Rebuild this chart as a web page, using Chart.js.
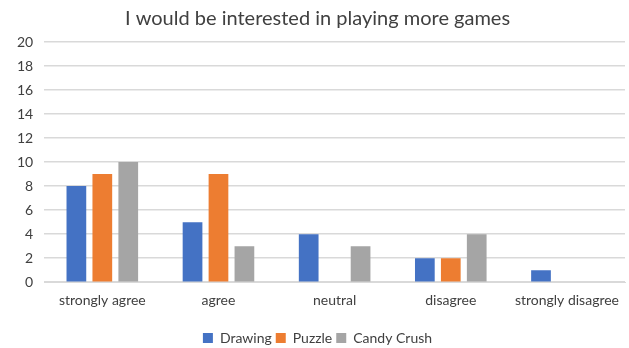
<!DOCTYPE html>
<html><head><meta charset="utf-8">
<script src="https://cdn.jsdelivr.net/npm/chart.js@4.4.0/dist/chart.umd.min.js"></script>
<style>html,body{margin:0;padding:0;background:#fff}#wrap{width:629px;height:348px}</style>
</head><body><div id="wrap"><canvas id="c"></canvas></div>
<script>
const categories = ["strongly agree","agree","neutral","disagree","strongly disagree"];
const drawing = [8,5,4,2,1];
const puzzle = [9,9,0,2,0];
const candyCrush = [10,3,3,4,0];
const yTicks = {min:0,max:20,step:2};
const FONT = 'Lato';

new Chart(document.getElementById('c'),{
  type:'bar',
  data:{labels:categories,datasets:[
    {label:'Drawing',data:drawing,backgroundColor:'#4472C4'},
    {label:'Puzzle',data:puzzle,backgroundColor:'#ED7D31'},
    {label:'Candy Crush',data:candyCrush,backgroundColor:'#A5A5A5'}
  ]},
  options:{
    responsive:true,maintainAspectRatio:false,animation:false,
    categoryPercentage:0.67,barPercentage:0.76,
    layout:{padding:{left:6,right:0,top:7,bottom:-7}},
    plugins:{
      title:{display:true,text:'I would be interested in playing more games',color:'#404040',font:{family:FONT,size:20,weight:'normal'},padding:{top:0,bottom:11}},
      legend:{position:'bottom',labels:{color:'#404040',font:{family:FONT,size:14},boxWidth:10,boxHeight:10,padding:4}},
      tooltip:{enabled:false}
    },
    scales:{
      x:{grid:{display:false,drawTicks:false},border:{display:true,color:'#d9d9d9'},
         ticks:{color:'#404040',font:{family:FONT,size:14},padding:10,maxRotation:0,minRotation:0,autoSkip:false},
         afterFit(s){ s.height += 8; }},
      y:{min:yTicks.min,max:yTicks.max,ticks:{stepSize:yTicks.step,autoSkip:false,color:'#404040',font:{family:FONT,size:14},padding:11},
         grid:{color:'#d9d9d9',drawTicks:false,lineWidth:1.5},border:{display:false}}
    }
  }
});
</script></body></html>
